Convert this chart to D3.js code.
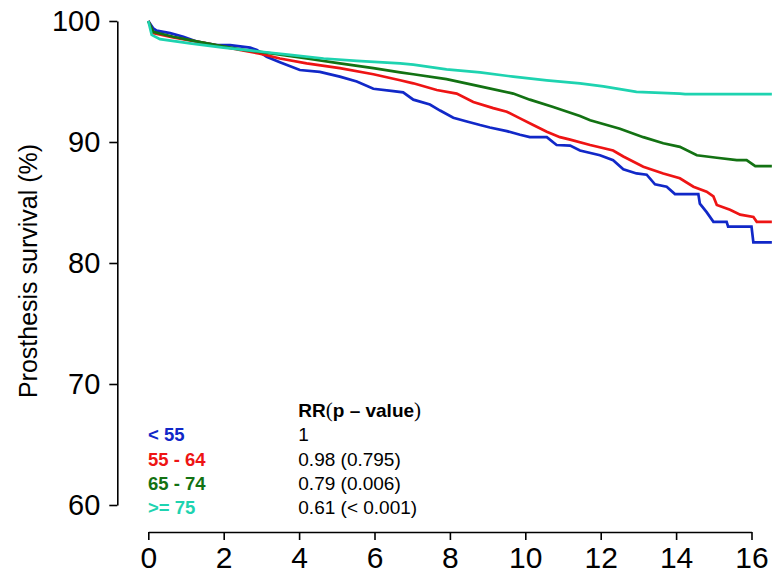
<!DOCTYPE html>
<html>
<head>
<meta charset="utf-8">
<script src="https://cdn.jsdelivr.net/npm/d3@7"></script>
<style>
  html, body { margin: 0; padding: 0; background: #fff; }
  svg { display: block; font-family: "Liberation Sans", Arial, sans-serif; }
</style>
</head>
<body>
<svg id="chart" width="772" height="579"></svg>
<script>
// ---- data ----
const xTicks = [0, 2, 4, 6, 8, 10, 12, 14, 16];
const yTicks = [60, 70, 80, 90, 100];

const groups = ["< 55", "55 - 64", "65 - 74", ">= 75"];
const rrLabels = ["1", "0.98 (0.795)", "0.79 (0.006)", "0.61 (< 0.001)"];
const colors = ["#1128C8", "#EE1414", "#137213", "#1ED3B0"];

const blueT = [0, 0.13, 0.22, 0.58, 0.93, 1.28, 1.81, 2.17, 2.70, 2.88, 3.14, 3.49, 4.02, 4.55, 5.08, 5.53, 5.97, 6.50, 6.76, 7.03, 7.47, 7.74, 8.09, 8.45, 8.80, 9.06, 9.51, 9.86, 10.12, 10.57, 10.83, 11.19, 11.45, 11.98, 12.33, 12.60, 12.95, 13.22, 13.44, 13.75, 13.97, 14.59, 14.63, 14.81, 14.99, 15.34, 15.38, 16.00, 16.05, 16.54];
const blueS = [100, 99.4, 99.2, 99.0, 98.7, 98.3, 98.0, 98.0, 97.8, 97.6, 97.05, 96.6, 95.95, 95.8, 95.4, 95.0, 94.4, 94.2, 94.1, 93.5, 93.1, 92.6, 92.0, 91.7, 91.4, 91.2, 90.9, 90.6, 90.4, 90.4, 89.75, 89.7, 89.3, 88.9, 88.5, 87.75, 87.4, 87.3, 86.5, 86.3, 85.7, 85.7, 84.9, 84.2, 83.4, 83.4, 83.0, 83.0, 81.7, 81.7];

const redT = [0, 0.13, 0.66, 1.55, 2.43, 2.96, 3.49, 4.20, 5.08, 5.97, 6.68, 7.03, 7.65, 8.18, 8.62, 9.15, 9.51, 9.86, 10.21, 10.57, 10.92, 11.19, 11.72, 12.33, 12.60, 13.13, 13.66, 14.10, 14.46, 14.81, 14.99, 15.08, 15.43, 15.70, 16.05, 16.14, 16.54];
const redS = [100, 99.0, 98.65, 98.15, 97.6, 97.3, 96.9, 96.5, 96.1, 95.6, 95.1, 94.85, 94.3, 94.0, 93.3, 92.8, 92.5, 91.95, 91.4, 90.85, 90.4, 90.2, 89.75, 89.3, 88.8, 87.95, 87.4, 87.0, 86.3, 85.9, 85.5, 84.8, 84.4, 84.0, 83.8, 83.4, 83.4];

const greenT = [0, 0.13, 0.66, 1.55, 2.43, 3.31, 4.20, 5.08, 5.97, 6.68, 7.03, 7.91, 8.80, 9.68, 10.12, 10.74, 11.45, 11.72, 12.51, 13.13, 13.66, 14.10, 14.55, 15.08, 15.61, 15.87, 16.10, 16.54];
const greenS = [100, 99.1, 98.7, 98.15, 97.65, 97.3, 96.9, 96.5, 96.1, 95.75, 95.6, 95.2, 94.6, 94.0, 93.5, 92.9, 92.15, 91.8, 91.1, 90.4, 89.9, 89.6, 88.9, 88.7, 88.5, 88.5, 88.0, 88.0];

const tealT = [0, 0.09, 0.31, 1.11, 1.99, 2.88, 3.76, 4.65, 5.53, 6.68, 7.03, 7.91, 8.80, 9.68, 10.57, 11.45, 12.07, 12.95, 14.10, 14.24, 16.54];
const tealS = [100, 98.85, 98.5, 98.15, 97.8, 97.5, 97.2, 96.9, 96.7, 96.5, 96.4, 96.0, 95.75, 95.4, 95.1, 94.85, 94.6, 94.15, 94.0, 93.95, 93.95];

const seriesT = [blueT, redT, greenT, tealT];
const seriesS = [blueS, redS, greenS, tealS];

// ---- drawing ----
const svg = d3.select("#chart");
const x = d3.scaleLinear().domain([0, 16]).range([148.3, 751.5]);
const y = d3.scaleLinear().domain([60, 100]).range([505, 21]);
const xAxisY = 532;
const yAxisX = 117.3;

// curves
const line = d3.line().x(d => x(d[0])).y(d => y(d[1])).curve(d3.curveLinear);
seriesT.forEach((ts, i) => {
  const pts = ts.map((t, j) => [t, seriesS[i][j]]);
  svg.append("path")
    .datum(pts)
    .attr("d", line)
    .attr("fill", "none")
    .attr("stroke", colors[i])
    .attr("stroke-width", 2.7)
    .attr("stroke-linejoin", "miter");
});

// x axis
const gx = svg.append("g")
  .attr("transform", `translate(0,${xAxisY})`)
  .call(d3.axisBottom(x).tickValues(xTicks).tickSizeInner(8).tickSizeOuter(0).tickPadding(7).tickFormat(d3.format("d")));
gx.selectAll("path, line").attr("stroke", "#000").attr("stroke-width", 1.6);
gx.selectAll("text").attr("font-size", 30).attr("fill", "#000").attr("font-family", "Liberation Sans, Arial, sans-serif");

// y axis
const gy = svg.append("g")
  .attr("transform", `translate(${yAxisX},0)`)
  .call(d3.axisLeft(y).tickValues(yTicks).tickSizeInner(8).tickSizeOuter(0).tickPadding(9).tickFormat(d3.format("d")));
gy.selectAll("path, line").attr("stroke", "#000").attr("stroke-width", 1.6);
gy.selectAll("text").attr("font-size", 29).attr("fill", "#000").attr("font-family", "Liberation Sans, Arial, sans-serif");

// y title
svg.append("text")
  .attr("transform", "translate(37,271) rotate(-90)")
  .attr("text-anchor", "middle")
  .attr("font-size", 25)
  .attr("fill", "#000")
  .text("Prosthesis survival (%)");

// legend header
const hdr = svg.append("text")
  .attr("x", 298.3).attr("y", 417)
  .attr("font-size", 19).attr("fill", "#000");
hdr.append("tspan").attr("font-weight", "bold").text("RR");
hdr.append("tspan").attr("font-family", "Liberation Serif, serif").attr("font-size", 21).text("(");
hdr.append("tspan").attr("font-weight", "bold").text("p \u2013 value");
hdr.append("tspan").attr("font-family", "Liberation Serif, serif").attr("font-size", 21).text(")");

// legend rows
const rowY = [441, 465.5, 490, 514];
groups.forEach((g, i) => {
  svg.append("text")
    .attr("x", 148).attr("y", rowY[i])
    .attr("font-size", 18.5).attr("font-weight", "bold")
    .attr("fill", colors[i])
    .text(g);
  svg.append("text")
    .attr("x", 298.3).attr("y", rowY[i])
    .attr("font-size", 19)
    .attr("fill", "#000")
    .text(rrLabels[i]);
});
</script>
</body>
</html>
